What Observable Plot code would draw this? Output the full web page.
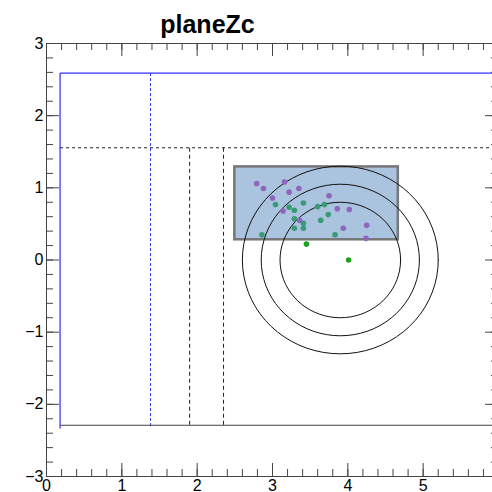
<!DOCTYPE html>
<html><head><meta charset="utf-8">
<script src="https://cdn.jsdelivr.net/npm/d3@7"></script>
<script src="https://cdn.jsdelivr.net/npm/@observablehq/plot@0.6"></script>
<style>
html,body{margin:0;padding:0;overflow:hidden;background:#fff;}
#chart svg{display:block;max-width:none;}
</style></head><body><div id="chart"></div>
<script>
// ---- text / ticks ----
const titleText = "planeZc";
const xMajorTicks = [0, 1, 2, 3, 4, 5, 6];
const xTickLabels = [0, 1, 2, 3, 4, 5];
const yMajorTicks = [-3, -2, -1, 0, 1, 2, 3];
const xMinorTicks = d3.range(0, 31).map(i => i / 5);
const yMinorTicks = d3.range(-15, 16).map(i => i / 5);

// ---- points ----
const purpleX = [2.79, 2.88, 3.16, 3.35, 3.22, 3.00, 3.75, 3.14, 3.86, 4.02, 3.36, 3.94, 4.25, 4.24];
const purpleY = [1.06, 0.99, 1.08, 0.99, 0.94, 0.86, 0.89, 0.68, 0.71, 0.70, 0.55, 0.44, 0.48, 0.30];
const tealX = [3.04, 3.22, 3.29, 3.41, 3.60, 3.69, 3.74, 3.29, 3.64, 3.41, 3.29, 3.41, 3.83, 2.86];
const tealY = [0.77, 0.73, 0.69, 0.79, 0.74, 0.77, 0.63, 0.57, 0.55, 0.51, 0.44, 0.44, 0.35, 0.35];
const greenX = [3.45, 4.01];
const greenY = [0.22, 0.00];

// ---- lines / shapes ----
const bluePathX = [6, 0.18, 0.18];
const bluePathY = [2.59, 2.59, -2.33];
const blueDashX = [1.38];
const blueDashY = [2.59, -2.33];
const solidLineY = [-2.29];
const solidLineX = [0.18, 6];
const dottedLineY = [1.555];
const dottedLineX = [0.18, 6];
const dashedX = [1.90, 2.35];
const dashedY = [1.555, -2.29];
const boxX = [2.50, 4.67];
const boxY = [0.28, 1.29];
const ringCenter = [3.9, 0];
const ringRadii = [0.8, 1.05, 1.3];

// build tables
const toPts = (xs, ys) => xs.map((x, i) => ({x, y: ys[i]}));
const purple = toPts(purpleX, purpleY);
const teal = toPts(tealX, tealY);
const green = toPts(greenX, greenY);
const bluePath = toPts(bluePathX, bluePathY);
const blueDash = blueDashX.map(x => ({x1: x, x2: x, y1: blueDashY[0], y2: blueDashY[1]}));
const solidSeg = solidLineY.map(y => ({x1: solidLineX[0], x2: solidLineX[1], y1: y, y2: y}));
const dottedSeg = dottedLineY.map(y => ({x1: dottedLineX[0], x2: dottedLineX[1], y1: y, y2: y}));
const dashedSeg = dashedX.map(x => ({x1: x, x2: x, y1: dashedY[0], y2: dashedY[1]}));
const box = [{x1: boxX[0], x2: boxX[1], y1: boxY[0], y2: boxY[1]}];
const ringPts = ringRadii.flatMap(r => d3.range(0, 73).map(k => {
  const a = k / 72 * 2 * Math.PI;
  return {r, x: ringCenter[0] + r * Math.cos(a), y: ringCenter[1] + r * Math.sin(a)};
}));

const W = 500, H = 492, mL = 46, mR = 2, mT = 43, mB = 16;
const fw = W - mL - mR, fh = H - mT - mB;
const axisColor = "#444";
const fmt = d3.format("d");

const chart = Plot.plot({
  width: W, height: H,
  marginLeft: mL, marginRight: mR, marginTop: mT, marginBottom: mB,
  style: {fontFamily: "'Liberation Sans', Arial, sans-serif", fontSize: "16px", background: "#fff", color: "#000"},
  x: {domain: [0, 6]},
  y: {domain: [-3, 3]},
  marks: [
    Plot.rect(box, {x1: "x1", x2: "x2", y1: "y1", y2: "y2", fill: "#aac3de", stroke: "#777", strokeWidth: 2.5}),
    Plot.line(bluePath, {x: "x", y: "y", stroke: "#0000ff", strokeWidth: 1}),
    Plot.link(blueDash, {x1: "x1", x2: "x2", y1: "y1", y2: "y2", stroke: "#3333ff", strokeDasharray: "3,2", strokeWidth: 1}),
    Plot.link(solidSeg, {x1: "x1", x2: "x2", y1: "y1", y2: "y2", stroke: "#444", strokeWidth: 1}),
    Plot.link(dottedSeg, {x1: "x1", x2: "x2", y1: "y1", y2: "y2", stroke: "#222", strokeDasharray: "3,3", strokeWidth: 1}),
    Plot.link(dashedSeg, {x1: "x1", x2: "x2", y1: "y1", y2: "y2", stroke: "#222", strokeDasharray: "4,3", strokeWidth: 1}),
    Plot.line(ringPts, {x: "x", y: "y", z: "r", stroke: "#111", strokeWidth: 1}),
    Plot.dot(purple, {x: "x", y: "y", r: 2.8, fill: "#9066bd", stroke: "none"}),
    Plot.dot(teal, {x: "x", y: "y", r: 2.8, fill: "#3a9a76", stroke: "none"}),
    Plot.dot(green, {x: "x", y: "y", r: 2.8, fill: "#22a022", stroke: "none"}),
    // ticks (ROOT style, inward, all four sides)
    Plot.tickX(xMajorTicks, {x: d => d, insetTop: fh - 13, stroke: axisColor}),
    Plot.tickX(xMinorTicks, {x: d => d, insetTop: fh - 7, stroke: axisColor}),
    Plot.tickX(xMajorTicks, {x: d => d, insetBottom: fh - 13, stroke: axisColor}),
    Plot.tickX(xMinorTicks, {x: d => d, insetBottom: fh - 7, stroke: axisColor}),
    Plot.tickY(yMajorTicks, {y: d => d, insetRight: fw - 13, stroke: axisColor}),
    Plot.tickY(yMinorTicks, {y: d => d, insetRight: fw - 7, stroke: axisColor}),
    Plot.tickY(yMajorTicks, {y: d => d, insetLeft: fw - 13, stroke: axisColor}),
    Plot.tickY(yMinorTicks, {y: d => d, insetLeft: fw - 7, stroke: axisColor}),
    Plot.frame({stroke: axisColor, strokeWidth: 1}),
    Plot.axisX({ticks: xTickLabels, tickFormat: fmt, tickSize: 0, tickPadding: 3, label: null, fill: "#000"}),
    Plot.axisY({ticks: yMajorTicks, tickFormat: fmt, tickSize: 0, tickPadding: 3, label: null, fill: "#000"})
  ]
});

d3.select(chart).append("text")
  .attr("x", 207.5).attr("y", 33.3)
  .attr("text-anchor", "middle")
  .attr("font-family", "'Liberation Sans', Arial, sans-serif")
  .attr("font-weight", "bold")
  .attr("font-size", 25)
  .attr("fill", "#000")
  .text(titleText);

document.getElementById("chart").appendChild(chart);
</script></body></html>
